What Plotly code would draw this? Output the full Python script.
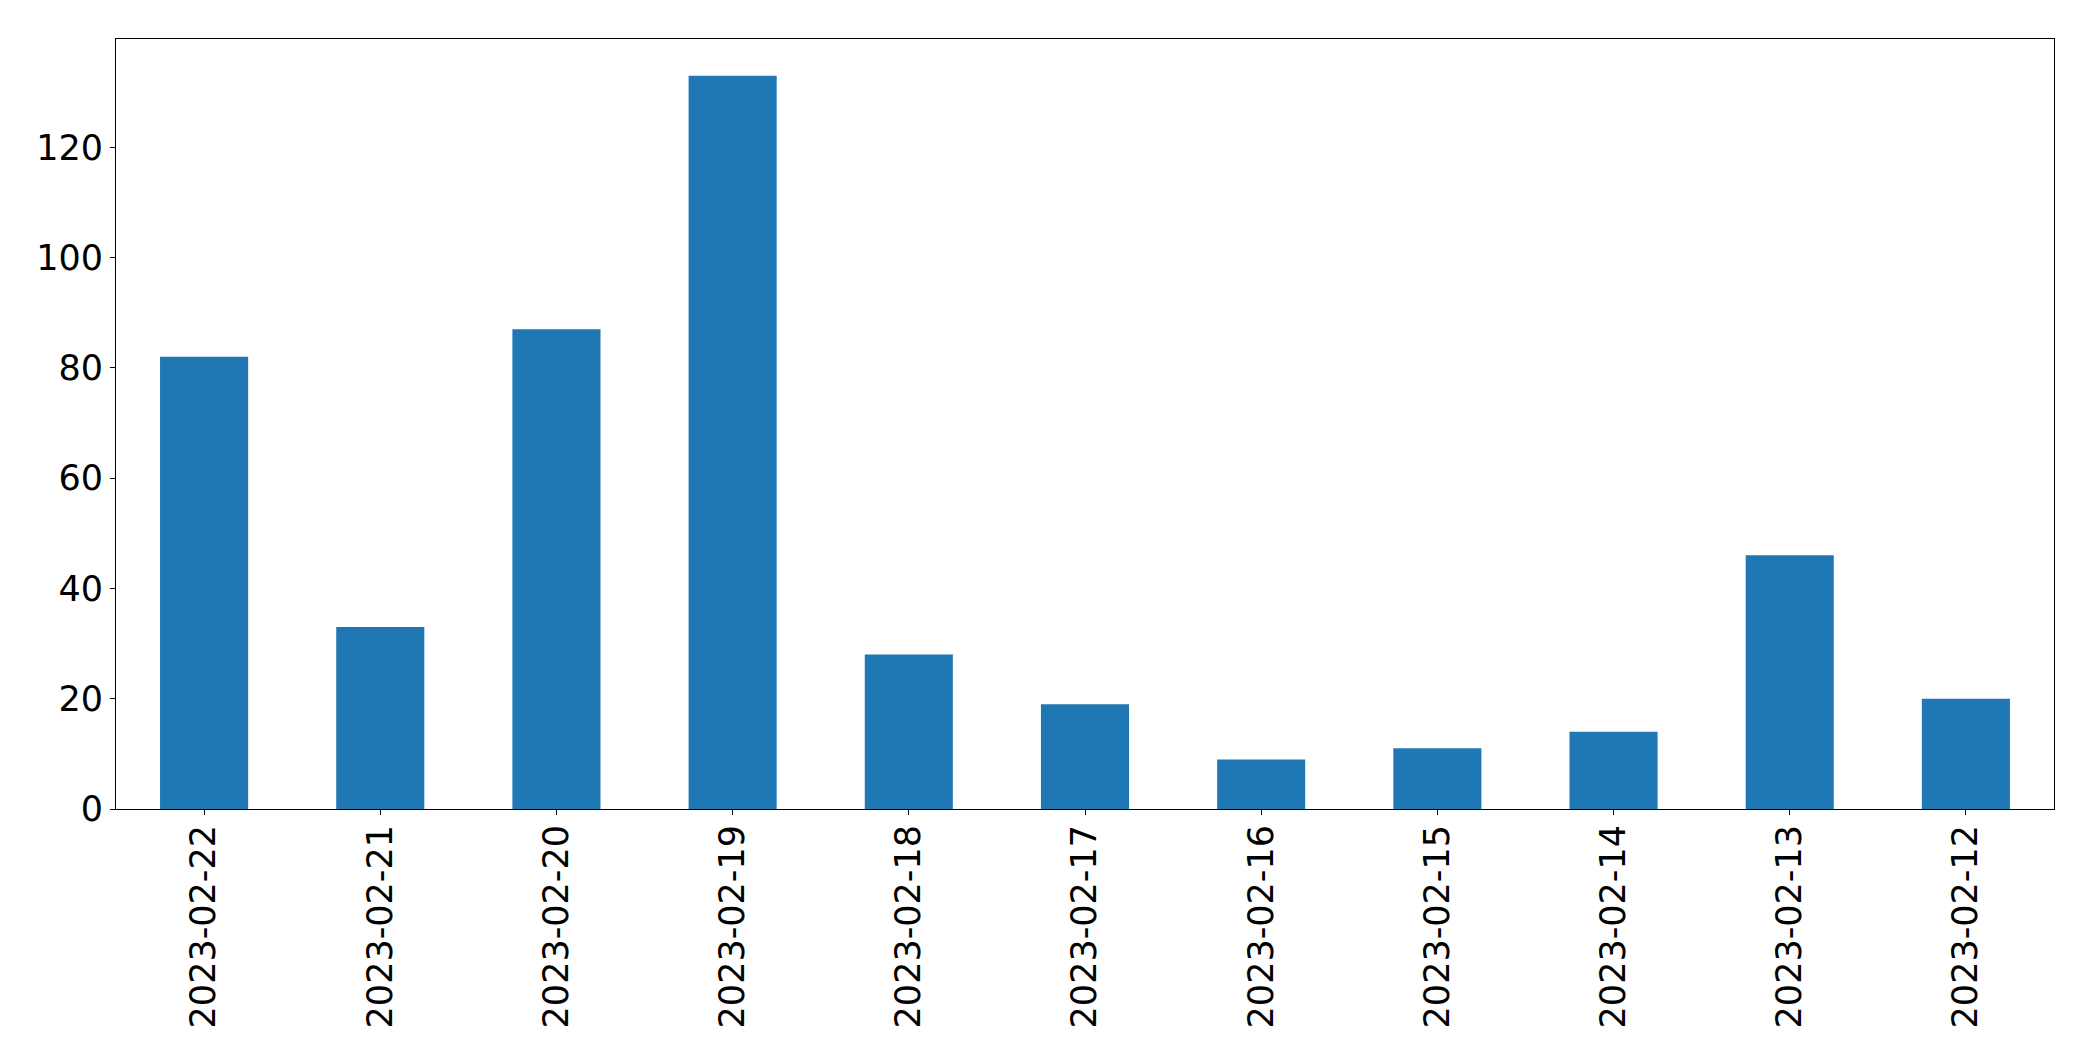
import plotly.graph_objects as go

dates = ["2023-02-22", "2023-02-21", "2023-02-20", "2023-02-19", "2023-02-18", "2023-02-17",
         "2023-02-16", "2023-02-15", "2023-02-14", "2023-02-13", "2023-02-12"]
counts = [82, 33, 87, 133, 28, 19, 9, 11, 14, 46, 20]
y_ticks = [0, 20, 40, 60, 80, 100, 120]

fig = go.Figure(go.Bar(x=dates, y=counts, marker=dict(color="#1f77b4", line=dict(width=0))))

font = dict(family="DejaVu Sans", size=35, color="black")
fig.update_layout(
    width=2093, height=1061,
    margin=dict(l=116, r=39, t=39, b=252),
    paper_bgcolor="white", plot_bgcolor="white",
    bargap=0.5, showlegend=False, font=font,
)
fig.update_xaxes(
    type="category", range=[-0.5, len(dates) - 0.5], tickangle=-90,
    showline=True, linecolor="black", linewidth=1, mirror=True,
    ticks="outside", ticklen=5, tickcolor="black", tickwidth=1,
    showgrid=False, zeroline=False, tickfont=font, ticklabelstandoff=-4,
)
fig.update_yaxes(
    range=[0, max(counts) * 1.05], tickvals=y_ticks,
    showline=True, linecolor="black", linewidth=1, mirror=True,
    ticks="outside", ticklen=5, tickcolor="black", tickwidth=1,
    showgrid=False, zeroline=False, tickfont=font,
)
fig.write_html("out.html", config={"displayModeBar": False},
               post_script="document.body.style.margin='0';document.body.style.overflow='hidden';")
